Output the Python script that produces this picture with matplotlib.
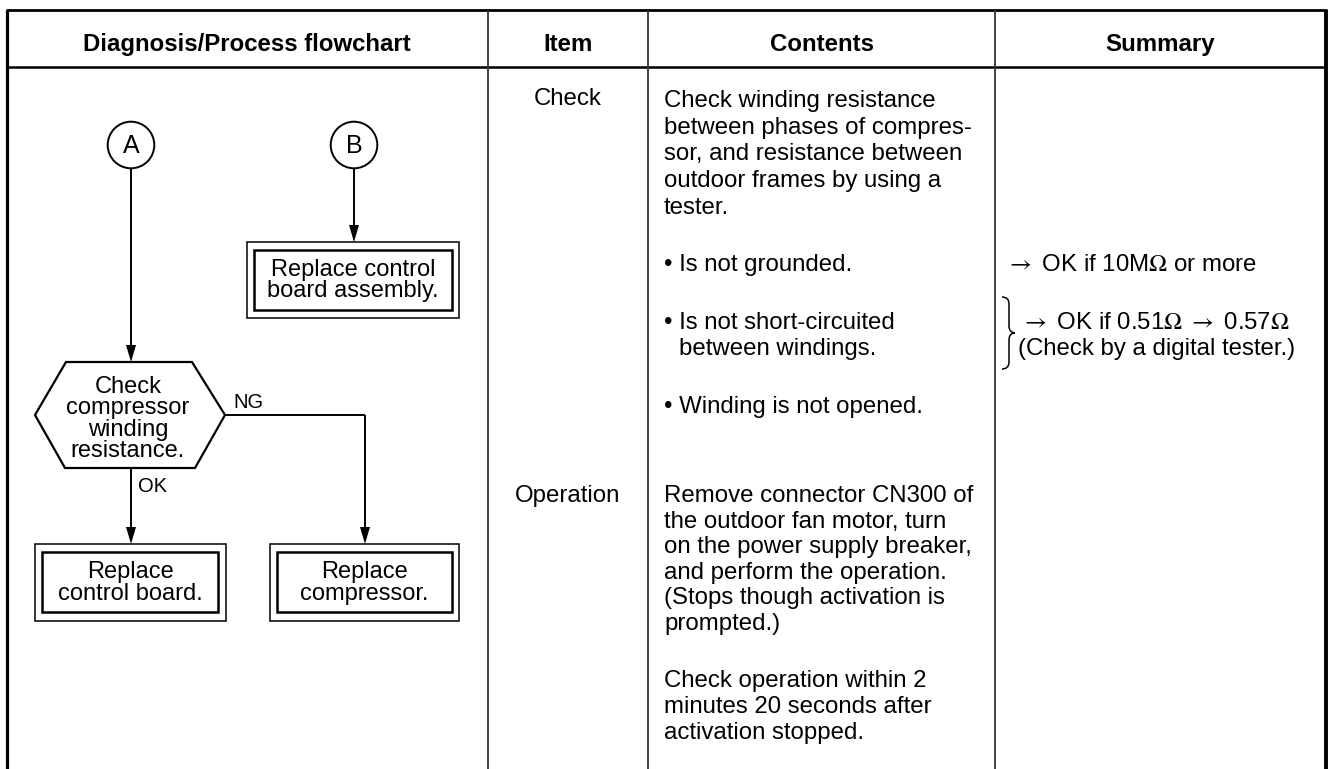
import matplotlib
matplotlib.use("Agg")
import matplotlib.pyplot as plt
from matplotlib.patches import Circle, Polygon, Rectangle, PathPatch
from matplotlib.path import Path


W, H = 1329, 769
FONT = ['Liberation Sans', 'DejaVu Sans']
plt.rcParams['mathtext.fontset'] = 'stix'

# table frame (pixel positions)
left, top, right = 7, 10, 1326
header_bottom = 67
col_lines = [488, 648, 995]

headers = ["Diagnosis/Process flowchart", "Item", "Contents", "Summary"]
header_x = [247, 568, 822, 1160]

items = ["Check", "Operation"]
item_y = [105, 502]

contents = [
    "Check winding resistance",
    "between phases of compres-",
    "sor, and resistance between",
    "outdoor frames by using a",
    "tester.",
    "\u2022 Is not grounded.",
    "\u2022 Is not short-circuited",
    "between windings.",
    "\u2022 Winding is not opened.",
    "Remove connector CN300 of",
    "the outdoor fan motor, turn",
    "on the power supply breaker,",
    "and perform the operation.",
    "(Stops though activation is",
    "prompted.)",
    "Check operation within 2",
    "minutes 20 seconds after",
    "activation stopped.",
]
contents_y = [107, 134, 160, 187, 214, 271, 329, 355, 413,
              502, 528, 553, 579, 604, 630, 687, 713, 739]
contents_indent = [0, 0, 0, 0, 0, 0, 0, 15, 0,
                   0, 0, 0, 0, 0, 0, 0, 0, 0]

summary = [r"$\rightarrow$ OK if 10M$\Omega$ or more",
           r"$\rightarrow$ OK if 0.51$\Omega$ $\rightarrow$ 0.57$\Omega$",
           "(Check by a digital tester.)"]
summary_x = [1006, 1021, 1018]
summary_y = [271, 329, 355]

# flowchart pieces
circles = {"A": (131, 145), "B": (354, 145)}
hexagon = [(66, 362), (192, 362), (225, 415), (195, 468), (65, 468), (35, 415)]
hex_text = ["Check", "compressor", "winding", "resistance."]
hex_text_y = [393, 414, 436, 457]

# (outer box, inner box, lines, baselines)
boxes = [
    ((247, 242, 459, 318), (254, 250, 452, 310),
     ["Replace control", "board assembly."], [276, 297]),
    ((35, 544, 226, 621), (42, 552, 218, 612),
     ["Replace", "control board."], [578, 600]),
    ((270, 544, 459, 621), (277, 552, 452, 612),
     ["Replace", "compressor."], [578, 600]),
]


def line(ax, xs, ys, lw=1.4, color='black'):
    ax.plot(xs, ys, color=color, lw=lw, solid_capstyle='butt',
            solid_joinstyle='miter')


def arrow_down(ax, x, y0, y1):
    line(ax, [x, x], [y0, y1 - 14])
    ax.add_patch(Polygon([(x - 5, y1 - 17), (x + 5, y1 - 17), (x, y1)],
                         closed=True, color='black', lw=0))


def text(ax, x, y, s, size=17.3, ha='left', weight='normal'):
    ax.text(x, y, s, fontsize=size, ha=ha, va='baseline',
            family=FONT, fontweight=weight)


def draw_table(ax):
    line(ax, [left, left], [top, H], lw=2.3)
    line(ax, [right, right], [top, H], lw=2.8)
    line(ax, [left - 1, right + 1], [top, top], lw=2.0)
    line(ax, [left, right], [header_bottom, header_bottom], lw=1.8)
    for x in col_lines:
        line(ax, [x, x], [top, H], lw=1.3, color='#333333')

    for s, x in zip(headers, header_x):
        text(ax, x, 51, s, ha='center', weight='bold')
    for s, y in zip(items, item_y):
        text(ax, 568, y, s, ha='center')
    for s, y, dx in zip(contents, contents_y, contents_indent):
        text(ax, 664 + dx, y, s)
    for s, x, y in zip(summary, summary_x, summary_y):
        text(ax, x, y, s)

    # curly brace joining the two resistance rows
    verts = [(1002, 297), (1009, 297), (1009, 304),
             (1009, 326),
             (1009, 333), (1015, 333), (1015, 333),
             (1009, 333), (1009, 340),
             (1009, 362),
             (1009, 369), (1002, 369)]
    codes = [Path.MOVETO, Path.CURVE3, Path.CURVE3,
             Path.LINETO,
             Path.CURVE4, Path.CURVE4, Path.CURVE4,
             Path.CURVE3, Path.CURVE3,
             Path.LINETO,
             Path.CURVE3, Path.CURVE3]
    ax.add_patch(PathPatch(Path(verts, codes), fill=False, lw=1.1,
                           edgecolor='black'))


def draw_flowchart(ax):
    for name, (cx, cy) in circles.items():
        ax.add_patch(Circle((cx, cy), 23.3, fill=False, lw=1.4,
                            edgecolor='black'))
        ax.text(cx, cy + 1, name, fontsize=18, ha='center', va='center',
                family=FONT)

    arrow_down(ax, 131, 168, 362)
    arrow_down(ax, 354, 168, 242)

    ax.add_patch(Polygon(hexagon, closed=True, fill=False, lw=1.6,
                         edgecolor='black', joinstyle='miter'))
    for s, y in zip(hex_text, hex_text_y):
        text(ax, 128, y, s, size=17, ha='center')

    # NG branch
    line(ax, [225, 365], [415, 415])
    arrow_down(ax, 365, 415, 544)
    text(ax, 233, 408, "NG", size=14.5)

    # OK branch
    arrow_down(ax, 131, 468, 544)
    text(ax, 138, 492, "OK", size=14.5)

    for outer, inner, lines, ys in boxes:
        x0, y0, x1, y1 = outer
        ax.add_patch(Rectangle((x0, y0), x1 - x0, y1 - y0, fill=False,
                               lw=1.1, edgecolor='black'))
        x0, y0, x1, y1 = inner
        ax.add_patch(Rectangle((x0, y0), x1 - x0, y1 - y0, fill=False,
                               lw=1.8, edgecolor='black'))
        cx = (outer[0] + outer[2]) / 2
        for s, y in zip(lines, ys):
            text(ax, cx, y, s, size=17, ha='center')


fig = plt.figure(figsize=(W / 100, H / 100), dpi=100)
ax = fig.add_axes([0, 0, 1, 1])
ax.set_xlim(0, W)
ax.set_ylim(H, 0)
ax.axis('off')

draw_table(ax)
draw_flowchart(ax)

fig.savefig("out.png", dpi=100, facecolor='white')
